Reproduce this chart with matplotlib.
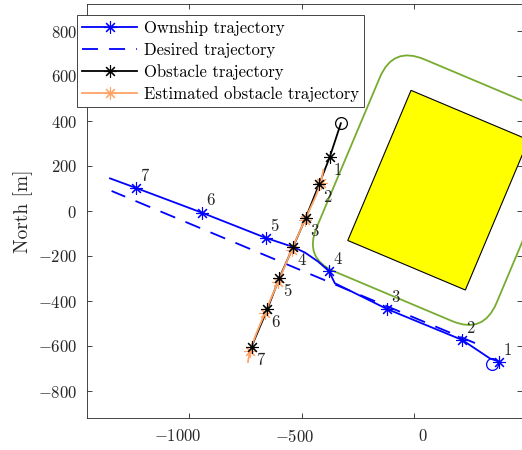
import numpy as np
import matplotlib
matplotlib.use("Agg")
import matplotlib.pyplot as plt
from matplotlib.patches import Rectangle, FancyBboxPatch
from matplotlib.transforms import Affine2D, ScaledTranslation, blended_transform_factory
from matplotlib.ticker import FixedLocator, FuncFormatter, NullFormatter

plt.rcParams['font.family'] = 'serif'
plt.rcParams['font.serif'] = ['cmr10']
plt.rcParams['mathtext.fontset'] = 'cm'
plt.rcParams['axes.formatter.use_mathtext'] = True

# ---------------- data ----------------
# Ownship trajectory (path) and time markers
own_path_x = [378, 336, 213, -120, -353, -379, -427, -485, -538, -661, -945, -1238, -1352]
own_path_y = [-670, -655, -573, -436, -321, -267, -225, -185, -160, -119, -7, 103, 145]
own_mark_x = [378, 213, -120, -379, -661, -945, -1238]
own_mark_y = [-670, -573, -436, -267, -119, -7, 103]
own_start = (344, -680)

# Desired trajectory
des_x = [270, -1345]
des_y = [-587, 89]

# Obstacle trajectory (first point = start)
obs_x = [-326, -375, -422, -482, -538, -600, -653, -723]
obs_y = [390, 241, 120, -30, -159, -299, -437, -603]

# Estimated obstacle trajectory
est_x = [-404, -410, -415, -440, -486, -515, -545, -575, -604, -635, -664, -700, -730, -739]
est_y = [182, 150, 123, 60, -40, -105, -173, -245, -314, -385, -455, -540, -620, -671]
est_mark_x = [-415, -486, -545, -604, -664, -730]
est_mark_y = [123, -40, -173, -314, -455, -620]

marker_labels = ['1', '2', '3', '4', '5', '6', '7']

# Static obstacle (rotated rectangle) and safety margin
zone_center = (106.5, 92.5)
zone_width = 567
zone_height = 724
zone_angle = -22.85
safety_margin = 150

xticks = [-1000, -500, 0]
xtick_labels = [r'$-1000$', r'$-500$', r'$0$']
yticks = [-800, -600, -400, -200, 0, 200, 400, 600, 800]
xlim = (-1453, 479)
ylim = (-920, 920)

# ---------------- plot ----------------
fig = plt.figure(figsize=(5.22, 4.5), dpi=100)
ax = fig.add_axes([87.3 / 522, 1 - 418 / 450, 1 - 87.3 / 522, (418 - 4) / 450])

BLUE = '#0000FF'
ORANGE = '#FFA366'
GREEN = '#77AC30'
TXT = '#262626'
lw = 1.3
star = (8, 2, 0)

rot = Affine2D().rotate_deg(zone_angle).translate(*zone_center) + ax.transData
rect = Rectangle((-zone_width / 2, -zone_height / 2), zone_width, zone_height,
                 facecolor='#FFFF00', edgecolor='black', lw=0.8, transform=rot, zorder=1)
ax.add_patch(rect)
safe = FancyBboxPatch((-zone_width / 2, -zone_height / 2), zone_width, zone_height,
                      boxstyle=f"round,pad={safety_margin},rounding_size={safety_margin}",
                      facecolor='none', edgecolor=GREEN, lw=lw, transform=rot, zorder=2)
ax.add_patch(safe)

# Ownship
ax.plot(own_path_x, own_path_y, color=BLUE, lw=lw, zorder=4)
ax.plot(own_mark_x, own_mark_y, ls='none', marker=star, ms=9, mec=BLUE, mew=0.8, zorder=5)
ax.plot([own_start[0]], [own_start[1]], ls='none', marker='o', ms=8.5, mfc='none', mec=BLUE, mew=0.9, zorder=5)
ax.plot([], [], color=BLUE, lw=lw, marker=star, ms=9, mec=BLUE, mew=0.8, label='Ownship trajectory')

# Desired
ax.plot(des_x, des_y, color=BLUE, lw=lw, ls=(0, (11.5 / lw, 8 / lw)), label='Desired trajectory', zorder=3)

# Obstacle
ax.plot(obs_x, obs_y, color='black', lw=lw, zorder=4)
ax.plot(obs_x[1:], obs_y[1:], ls='none', marker=star, ms=9, mec='black', mew=0.8, zorder=6)
ax.plot([obs_x[0]], [obs_y[0]], ls='none', marker='o', ms=8.5, mfc='none', mec='black', mew=0.9, zorder=5)
ax.plot([], [], color='black', lw=lw, marker=star, ms=9, mec='black', mew=0.8, label='Obstacle trajectory')

# Estimated obstacle
ax.plot(est_x, est_y, color=ORANGE, lw=lw, zorder=5)
ax.plot(est_mark_x, est_mark_y, ls='none', marker=star, ms=9, mec=ORANGE, mew=0.8, zorder=5)
ax.plot([], [], color=ORANGE, lw=lw, marker=star, ms=9, mec=ORANGE, mew=0.8, label='Estimated obstacle trajectory')

# Time labels
for x, y, t in zip(own_mark_x, own_mark_y, marker_labels):
    ax.annotate(t, (x, y), xytext=(3, 3), textcoords='offset points',
                ha='left', va='bottom', fontsize=12, color=TXT, zorder=7)
for x, y, t in zip(obs_x[1:], obs_y[1:], marker_labels):
    ax.annotate(t, (x, y), xytext=(3, -4), textcoords='offset points',
                ha='left', va='top', fontsize=12, color=TXT, zorder=7)

ax.set_xlim(*xlim)
ax.set_ylim(*ylim)
ax.xaxis.set_major_locator(FixedLocator(xticks))
ax.yaxis.set_major_locator(FixedLocator(yticks))
ax.xaxis.set_major_formatter(NullFormatter())
ax.yaxis.set_major_formatter(FuncFormatter(lambda v, p: f'${v:g}$'))
ax.tick_params(direction='in', length=3.3, width=0.6, pad=7.5, labelsize=12,
               top=True, right=True, colors=TXT)
for s in ax.spines.values():
    s.set_linewidth(0.6)
    s.set_color(TXT)

# x tick labels (placed as in the reference)
xlab_shift_px = [-11.3, -6.7, 8.7]
btrans = blended_transform_factory(ax.transData, ax.transAxes)
for v, lab, dx in zip(xticks, xtick_labels, xlab_shift_px):
    tr = btrans + ScaledTranslation(dx / 100, -10 / 100, fig.dpi_scale_trans)
    ax.text(v, 0, lab, transform=tr, ha='center', va='top', fontsize=12, color=TXT)

ax.set_ylabel('North [m]', fontsize=14, color=TXT, labelpad=3)

leg = ax.legend(loc='upper left', bbox_to_anchor=(77 / 522, 1 - 15 / 450),
                bbox_transform=fig.transFigure, borderaxespad=0, fontsize=12,
                handlelength=3.3, handletextpad=0.4, labelspacing=0.38,
                borderpad=0.32, fancybox=False, framealpha=1, edgecolor=TXT)
leg.get_frame().set_linewidth(0.6)
leg.set_zorder(10)

fig.savefig('out.png', dpi=100)
